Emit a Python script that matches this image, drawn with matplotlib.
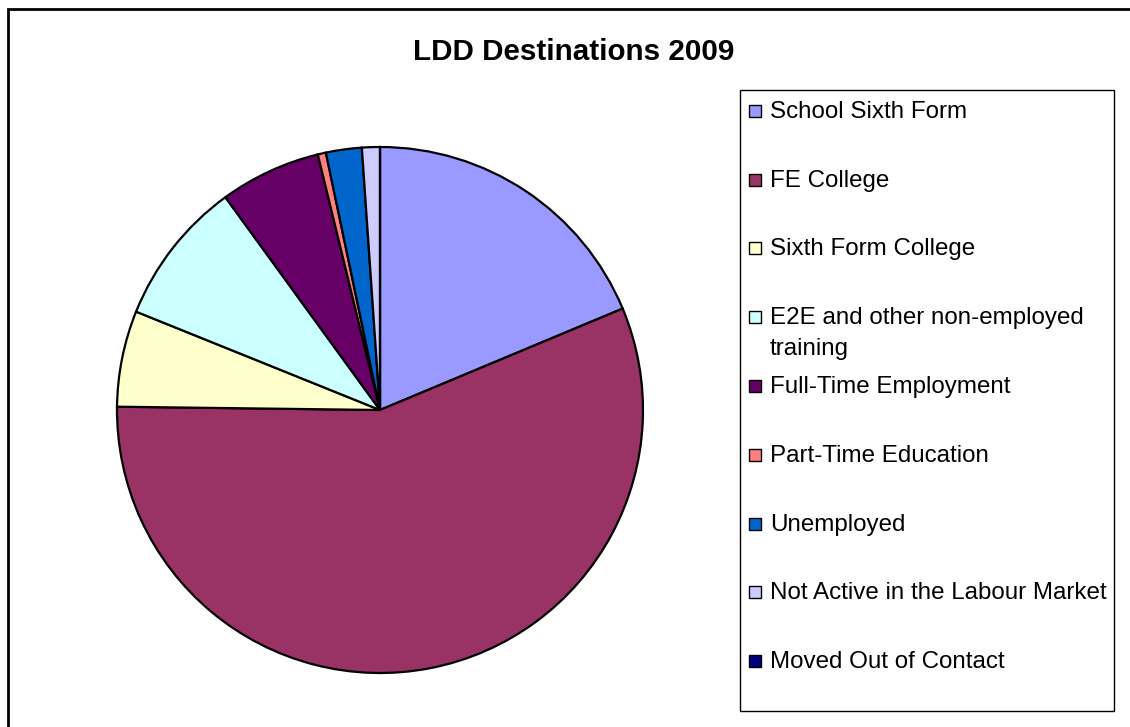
import matplotlib
matplotlib.use("Agg")
import matplotlib.pyplot as plt
from matplotlib.patches import Rectangle

plt.rcParams["font.family"] = ["Liberation Sans", "DejaVu Sans"]

# LDD destinations 2009 (share of leavers, %)
labels = [
    "School Sixth Form",
    "FE College",
    "Sixth Form College",
    "E2E and other non-employed\ntraining",
    "Full-Time Employment",
    "Part-Time Education",
    "Unemployed",
    "Not Active in the Labour Market",
    "Moved Out of Contact",
]
shares = [18.7, 56.5, 5.9, 8.9, 6.2, 0.5, 2.2, 1.1, 0.0]
colors = ["#9999FF", "#993366", "#FFFFCC", "#CCFFFF", "#660066",
          "#FF8080", "#0066CC", "#CCCCFF", "#000080"]

W, H = 1130, 727


def fx(x):
    return x / W


def fy(y):
    return 1 - y / H


fig = plt.figure(figsize=(W / 100, H / 100), dpi=100)

# pie, centre (380, 410) px, radius 263 px
cx, cy, r = 380, 410, 263
ax = fig.add_axes([fx(cx - r), fy(cy + r), 2 * r / W, 2 * r / H])
wedges, _ = ax.pie(shares, colors=colors, startangle=90, counterclock=False, radius=1,
                   wedgeprops=dict(edgecolor="black", linewidth=1.6))
for w in wedges:
    w.set_clip_on(False)
ax.set_xlim(-1, 1)
ax.set_ylim(-1, 1)
ax.set_aspect("auto")
ax.axis("off")

fig.text(fx(574), fy(52), "LDD Destinations 2009", ha="center", va="center",
         fontsize=21.3, fontweight="bold")

# legend
fig.patches.append(Rectangle((fx(740), fy(711)), fx(1114) - fx(740), fy(90) - fy(711),
                             transform=fig.transFigure, fill=False,
                             edgecolor="black", linewidth=1.0))
y0, step, line_h = 110, 68.75, 31
for i, (lab, col) in enumerate(zip(labels, colors)):
    y = y0 + i * step
    fig.patches.append(Rectangle((fx(749), fy(y + 7)), 12 / W, 12 / H,
                                 transform=fig.transFigure, facecolor=col,
                                 edgecolor="black", linewidth=1.0))
    for k, line in enumerate(lab.split("\n")):
        fig.text(fx(770), fy(y + 2 + k * line_h), line, ha="left", va="center",
                 fontsize=17.4)

# outer chart border
fig.patches.append(Rectangle((fx(8), fy(740)), 1.1, fy(9) - fy(740),
                             transform=fig.transFigure, fill=False,
                             edgecolor="black", linewidth=2.0, clip_on=False))

fig.savefig("out.png", dpi=100)
